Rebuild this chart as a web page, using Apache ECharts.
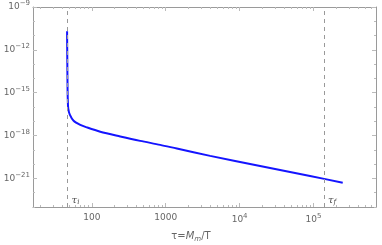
<!DOCTYPE html>
<html>
<head>
<meta charset="utf-8">
<script src="https://cdn.jsdelivr.net/npm/echarts@6/dist/echarts.min.js"></script>
<style>html,body{margin:0;padding:0;background:#fff}#c{width:382px;height:245px}</style>
</head>
<body>
<div id="c"></div>
<script>
// log10 of tau = M_m/T
var logTau = [1.666, 1.669, 1.672, 1.676, 1.682, 1.703, 1.754, 1.845, 1.935, 2.115, 2.385, 2.655, 2.926, 3.151, 3.601, 4.277, 4.953, 5.395];
// log10 of the plotted quantity
var logVal = [-10.69, -12.73, -14.49, -15.55, -16.11, -16.54, -16.96, -17.25, -17.43, -17.73, -18.06, -18.37, -18.65, -18.91, -19.42, -20.13, -20.83, -21.30];
var logTauI = 1.673;   // tau_i
var logTauF = 5.142;   // tau_f
var xMajor = [2, 3, 4, 5];
var xMajorLabels = ['100', '1000', '10^4', '10^5'];
var yMajor = [-21, -18, -15, -12, -9];
var xRange = [1.205, 5.845];
var yRange = [-23, -9];

var xMinor = [];
for (var d = 1; d <= 5; d++) { for (var k = 2; k <= 9; k++) { var v = d + Math.log10(k); if (v > xRange[0] && v < xRange[1]) xMinor.push(v); } }
var yMinor = [];
for (var e = yRange[0]; e <= yRange[1]; e++) { if (yMajor.indexOf(e) < 0) yMinor.push(e); }

var gray = '#9a9a9a';
var lblColor = '#666';
function fmtPow(s) {
  if (s.indexOf('^') < 0) return '{b|' + s + '}';
  var p = s.split('^');
  return '{b|' + p[0] + '}{s|' + p[1] + '}';
}
var rich = { b: { fontSize: 9, color: lblColor, fontFamily: 'DejaVu Sans' }, s: { fontSize: 7, color: lblColor, fontFamily: 'DejaVu Sans', padding: [0, 0, 7, 0] } };

function xAx(pos, ticks, len, showLine, showLabel) {
  return {
    type: 'value', position: pos, min: xRange[0], max: xRange[1],
    axisLine: { show: showLine, lineStyle: { color: gray, width: 1 } },
    axisTick: { show: true, inside: true, length: len, customValues: ticks, lineStyle: { color: '#bbb' } },
    axisLabel: { show: showLabel, customValues: xMajor, margin: 6,
      formatter: function (v) { var i = xMajor.indexOf(Math.round(v)); return i >= 0 ? fmtPow(xMajorLabels[i]) : ''; }, rich: rich },
    splitLine: { show: false }
  };
}
function yAx(pos, ticks, len, showLine, showLabel) {
  return {
    type: 'value', position: pos, min: yRange[0], max: yRange[1],
    axisLine: { show: showLine, lineStyle: { color: gray, width: 1 } },
    axisTick: { show: true, inside: true, length: len, customValues: ticks, lineStyle: { color: '#bbb' } },
    axisLabel: { show: showLabel, customValues: yMajor, margin: 3,
      formatter: function (v) { return fmtPow('10^' + String(Math.round(v)).replace('-', '\u2212')); }, rich: rich },
    splitLine: { show: false }
  };
}

var chart = echarts.init(document.getElementById('c'), null, { renderer: 'canvas' });
chart.setOption({
  animation: false,
  grid: { left: 33, right: 6, top: 7, bottom: 38, containLabel: false },
  xAxis: [
    xAx('bottom', xMajor, 4, true, true),
    xAx('bottom', xMinor, 2, false, false),
    xAx('top', xMajor, 4, true, false),
    xAx('top', xMinor, 2, false, false)
  ],
  yAxis: [
    yAx('left', yMajor, 4, true, true),
    yAx('left', yMinor, 2, false, false),
    yAx('right', yMajor, 4, true, false),
    yAx('right', yMinor, 2, false, false)
  ],
  graphic: [{
    type: 'text', left: 'center', bottom: 2,
    style: { rich: { n: { fontSize: 10, fontFamily: 'DejaVu Sans', fill: lblColor }, i: { fontSize: 10, fontStyle: 'italic', fontFamily: 'DejaVu Sans', fill: lblColor }, sub: { fontSize: 7, fontStyle: 'italic', fontFamily: 'DejaVu Sans', fill: lblColor, padding: [6, 0, 0, 0] } },
      text: '{n|\u03c4=}{i|M}{sub|m}{n|/T}' }
  }],
  series: [
    {
      type: 'line', xAxisIndex: 0, yAxisIndex: 0,
      data: logTau.map(function (t, i) { return [t, logVal[i]]; }),
      smooth: 0.3, showSymbol: false, symbol: 'none',
      lineStyle: { color: '#1414ff', width: 2 },
      markLine: {
        silent: true, symbol: 'none', animation: false,
        lineStyle: { color: '#999', type: [4, 4], width: 1 },
        label: { show: false },
        data: [{ xAxis: logTauI }, { xAxis: logTauF }]
      }
    },
    {
      type: 'scatter', xAxisIndex: 0, yAxisIndex: 0, symbolSize: 0, silent: true,
      data: [[logTauI, -22.52, 'i'], [logTauF, -22.52, 'f']],
      label: {
        show: true, position: 'right', distance: 4,
        formatter: function (p) { return '{t|\u03c4}{s|' + p.data[2] + '}'; },
        rich: { t: { fontSize: 10, fontStyle: 'italic', fontFamily: 'DejaVu Serif', color: '#222' }, s: { fontSize: 7, fontStyle: 'italic', fontFamily: 'DejaVu Serif', color: '#222', padding: [5, 0, 0, 0] } }
      }
    }
  ]
});
</script>
</body>
</html>
